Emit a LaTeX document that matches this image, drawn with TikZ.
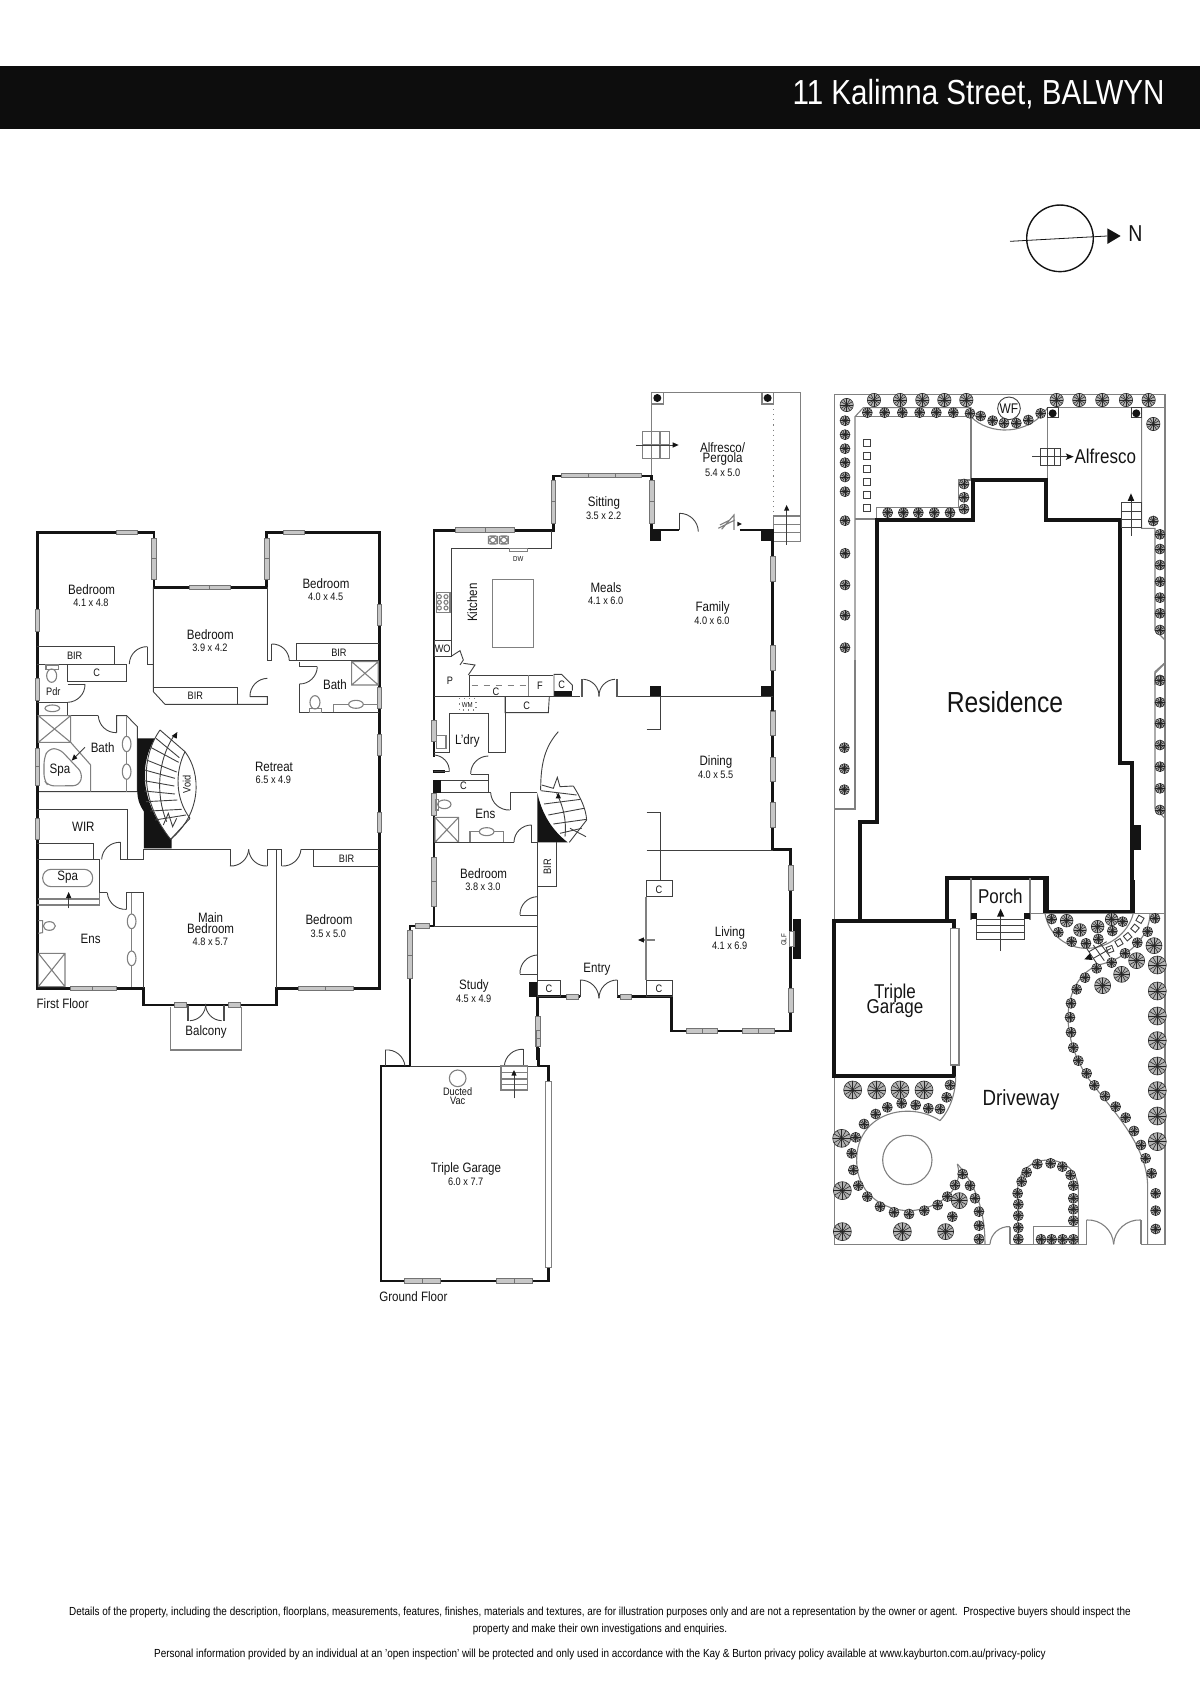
\documentclass[tikz,border=0pt]{standalone}
\usepackage{fontspec}
\setmainfont[FakeStretch=0.85]{Liberation Sans}
\usepackage{tikz}

\definecolor{inkdark}{gray}{0.08}
\definecolor{wingrey}{gray}{0.78}

\tikzset{
    wall/.style={line width=1.25pt,draw=inkdark,line join=miter},
    thickwall/.style={line width=1.9pt,draw=inkdark,line join=miter},
    thinln/.style={line width=0.45pt,draw=black!75},
    grayln/.style={line width=0.55pt,draw=black!50},
    winbox/.style={line width=0.3pt,draw=black!55,fill=wingrey},
    solid black/.style={fill=inkdark,draw=none},
    rm/.style={font=\fontsize{6.8}{7}\selectfont,inner sep=0pt,text=inkdark},
    dm/.style={font=\fontsize{5.4}{6}\selectfont,inner sep=0pt,text=inkdark},
    sm/.style={font=\fontsize{5.4}{6}\selectfont,inner sep=0pt,text=inkdark},
    tiny lab/.style={font=\fontsize{3.6}{4}\selectfont,inner sep=0pt,text=inkdark},
    big lab/.style={font=\fontsize{10}{11}\selectfont,inner sep=0pt,text=inkdark},
    foot/.style={font=\fontsize{5.85}{7}\selectfont,inner sep=0pt,text=black},
    arrowtip/.style={fill=inkdark,draw=none}
}

% window boxes, in the coordinates of the scope
\newcommand{\hwin}[3]{\draw[winbox] (#1,#3-7) rectangle (#2,#3+7);}
\newcommand{\vwin}[3]{\draw[winbox] (#1-7,#2) rectangle (#1+7,#3);}
% shower square with its cross
\newcommand{\shower}[4]{\draw[grayln] (#1,#2) rectangle (#3,#4) (#1,#2) -- (#3,#4) (#1,#4) -- (#3,#2);}
% a plant: x, y, radius
\newcommand{\shrub}[3]{%
    \draw[line width=0.3pt,draw=black!80,fill=black!30] (#1,#2) circle (#3);
    \foreach \a in {0,30,...,330} {\draw[line width=0.28pt,draw=black!85] (#1,#2) -- ++(\a:#3);}
}

\begin{document}
\begin{tikzpicture}[x=0.5pt,y=-0.5pt]
    \useasboundingbox (0,0) rectangle (1200,1697);

    % title band
    \fill[fill=black!95] (0,65.5) rectangle (1200,128.5);
    \node[font=\fontsize{17.4}{18}\selectfont,inner sep=0pt,text=white,anchor=east] (title) at (1165,94) {11 Kalimna Street, BALWYN};

    % north point
    \begin{scope}[shift={(960,180)},scale=0.3333]
        \node[draw=inkdark,line width=0.7pt,circle,minimum size=33.3pt,inner sep=0pt] (compass) at (300,175) {};
        \coordinate (tailN) at (150,184);
        \coordinate (headN) at (442,168);
        \draw[line width=0.4pt,draw=inkdark] (tailN) -- (headN);
        \fill[arrowtip] (442,145) -- (482,168) -- (442,192) -- cycle;
        \node[font=\fontsize{11.5}{12}\selectfont,inner sep=0pt,text=inkdark] (northN) at (526,160) {N};
    \end{scope}

    % first floor, top half
    \begin{scope}[shift={(20,510)},scale=0.3333]
        \draw[wall] (52,900) -- (52,67) -- (402,67) -- (402,232) -- (740,232) -- (740,67) -- (1078,67) -- (1078,900);
        \foreach \a/\b/\c in {290/352/67,508/569/232,569/630/232,790/853/67} {\hwin{\a}{\b}{\c}}
        \foreach \a/\b/\c in {402/85/146,402/146/207,740/85/146,740/146/207,52/298/365,52/505/572,52/715/770,52/770/825,1078/283/345,1078/532/595,1078/672/735} {\vwin{\a}{\b}{\c}}

        \draw[thinln] (400,232) -- (400,545) -- (435,583) -- (742,583) -- (742,560) -- (690,560);
        \draw[thinln] (742,232) -- (742,452) -- (755,452) -- (755,402);
        \draw[thinln] (400,462) -- (382,462) -- (382,410);
        \draw[thinln] (400,532) -- (653,532) -- (653,583);
        \draw[thinln] (52,410) -- (282,410) -- (282,462) -- (52,462);
        \draw[thinln] (143,462) -- (320,462) -- (320,513) -- (143,513) -- cycle;
        \draw[thinln] (143,522) -- (195,522);
        \draw[thinln] (52,577) -- (143,577) -- (143,617);
        \draw[thinln] (52,617) -- (235,617);
        \draw[thinln] (290,668) -- (290,617) -- (320,617) -- (352,650) -- (352,845) -- (52,845);
        \draw[grayln] (320,617) -- (320,680) (320,725) -- (320,762) (320,807) -- (320,845);
        \draw[grayln] (320,702) ellipse (13 and 23);
        \draw[grayln] (320,785) ellipse (13 and 23);
        \shower{55}{617}{152}{697}
        \draw[grayln] (152,697) -- (212,765) -- (212,845);
        \draw[grayln,rounded corners=3pt] (72,745) -- (85,716) -- (118,716) -- (188,790) -- (178,827) -- (85,828) -- (72,810) -- cycle;
        \draw[thinln] (195,712) -- (165,742);
        \fill[arrowtip] (155,752) -- (172,745) -- (162,733) -- cycle;
        \draw[grayln] (95,497) ellipse (15 and 20);
        \draw[grayln] (78,465) rectangle (115,478);
        \draw[grayln] (97,595) ellipse (22 and 10);
        \draw[thinln] (828,452) -- (828,400) -- (1078,400) (808,452) -- (1078,452);
        \draw[thinln] (838,455) -- (838,470) -- (892,470);
        \draw[thinln] (838,522) -- (838,607) -- (1078,607);
        \shower{995}{455}{1075}{525}
        \draw[grayln] (940,607) -- (940,583) -- (1075,583);
        \draw[grayln,fill=white] (1008,583) ellipse (22 and 12);
        \draw[grayln] (885,577) ellipse (15 and 20);
        \draw[grayln] (868,595) rectangle (905,607);

        % doors
        \draw[thinln] (328,462) to[bend left=45] (382,410);
        \draw[thinln] (195,522) to[bend left=45] (143,577);
        \draw[thinln] (235,617) to[bend right=45] (290,668);
        \draw[thinln] (742,505) to[bend right=45] (690,560);
        \draw[thinln] (755,402) to[bend left=45] (808,452);
        \draw[thinln] (892,470) to[bend left=45] (838,522);

        \node[rm] (bedA) at (215,238) {Bedroom};
        \node[dm] (bedAd) at (213,277) {4.1 x 4.8};
        \node[rm] (bedB) at (918,222) {Bedroom};
        \node[dm] (bedBd) at (917,261) {4.0 x 4.5};
        \node[rm] (bedC) at (571,373) {Bedroom};
        \node[dm] (bedCd) at (570,412) {3.9 x 4.2};
        \node[sm] (birA) at (164,437) {BIR};
        \node[sm] (cupA) at (230,488) {C};
        \node[sm] (pdrA) at (100,545) {Pdr};
        \node[sm] (birB) at (526,557) {BIR};
        \node[sm] (birC) at (957,428) {BIR};
        \node[rm] (bathA) at (945,525) {Bath};
        \node[rm] (bathB) at (248,712) {Bath};
        \node[rm] (spaA) at (120,780) {Spa};
        \node[rm] (retreat) at (762,772) {Retreat};
        \node[dm] (retreatd) at (760,810) {6.5 x 4.9};
    \end{scope}

    % first floor stairs
    \begin{scope}[shift={(120,710)},scale=0.3333]
        \fill[solid black] (52,85) -- (105,85) .. controls (65,150) and (50,260) .. (150,385) -- (155,385) -- (155,415) -- (72,415) -- (72,305) .. controls (55,280) and (52,260) .. (52,245) -- cycle;
        \draw[thinln] (120,60) .. controls (70,130) and (50,260) .. (152,388);
        \draw[thinln] (120,60) -- (195,125);
        \draw[thinln] (195,125) .. controls (165,185) and (165,265) .. (210,325);
        \draw[thinln] (195,125) .. controls (245,190) and (245,310) .. (152,388);
        \draw[thinln] (210,325) -- (152,388);
        \foreach \a/\b/\c/\d in {108/85/178/143,92/112/176/157,80/150/170/186,74/180/165/205,72/212/163/228,73/243/165/252,78/275/172/270,90/303/185/298,105/330/198/315} {\draw[thinln] (\a,\b) -- (\c,\d);}
        \draw[thinln] (160,80) .. controls (115,150) and (105,250) .. (140,335);
        \draw[thinln] (130,345) -- (145,310) -- (158,350) -- (170,325);
        \fill[arrowtip] (172,66) -- (155,78) -- (170,86) -- cycle;
        \node[sm,rotate=90] (voidN) at (200,223) {Void};
    \end{scope}

    % first floor, bottom half
    \begin{scope}[shift={(20,790)},scale=0.3333]
        \draw[wall] (52,0) -- (52,595) -- (370,595) -- (370,645) -- (770,645) -- (770,595) -- (1078,595) -- (1078,0);
        \vwin{52}{85}{148}
        \vwin{1078}{67}{128}
        \foreach \a/\b/\c in {150/218/595,218/288/595,835/916/595,916/1000/595,462/498/645,625/660/645} {\hwin{\a}{\b}{\c}}

        \draw[thinln] (52,58) -- (322,58) -- (322,208);
        \draw[thinln] (52,160) -- (220,160) -- (220,208);
        \draw[thinln] (52,208) -- (238,208) -- (238,308);
        \draw[thinln] (302,157) -- (302,208) -- (370,208) -- (370,178);
        \draw[thinln] (238,308) -- (262,308);
        \draw[grayln] (238,308) -- (238,345) -- (52,345);
        \draw[grayln] (55,327) -- (238,327);
        \draw[grayln,rounded corners=4.2pt] (68,238) rectangle (218,290);
        \draw[thinln] (146,355) -- (146,322);
        \fill[arrowtip] (146,306) -- (138,324) -- (154,324) -- cycle;
        \draw[thinln] (320,358) -- (320,308) -- (370,308) -- (370,595);
        \draw[grayln] (335,308) -- (335,373) (335,415) -- (335,483) (335,527) -- (335,590);
        \draw[grayln] (335,394) ellipse (13 and 22);
        \draw[grayln] (335,505) ellipse (13 and 22);
        \draw[grayln] (88,408) ellipse (18 and 13);
        \draw[grayln] (55,392) -- (68,392) -- (68,428) -- (55,430);
        \shower{55}{490}{135}{590}

        \draw[thinln] (370,178) -- (630,178) -- (630,228);
        \draw[thinln] (742,228) -- (742,178) -- (785,178) -- (785,228);
        \draw[thinln] (843,178) -- (1078,178);
        \draw[thinln] (770,178) -- (770,595);
        \draw[thinln] (880,178) -- (880,230) -- (1078,230);
        \draw[grayln] (452,650) -- (452,780) -- (665,780) -- (665,650);
        \draw[line width=1.1pt,draw=black!70] (505,645) -- (505,692) (612,645) -- (612,692);

        % doors
        \draw[thinln] (245,208) to[bend left=45] (302,157);
        \draw[thinln] (262,308) to[bend right=45] (320,358);
        \draw[thinln] (630,228) to[bend right=45] (686,178);
        \draw[thinln] (686,178) to[bend right=45] (742,228);
        \draw[thinln] (785,228) to[bend right=45] (843,178);
        \draw[thinln] (510,692) to[bend right=45] (557,642);
        \draw[thinln] (557,642) to[bend right=45] (605,692);

        \node[rm] (wirA) at (190,110) {WIR};
        \node[rm] (spaB) at (143,262) {Spa};
        \node[rm] (ensA) at (212,447) {Ens};
        \node[rm] (mainA) at (572,382) {Main};
        \node[rm] (mainB) at (572,415) {Bedroom};
        \node[dm] (mainBd) at (571,455) {4.8 x 5.7};
        \node[rm] (bedD) at (927,390) {Bedroom};
        \node[dm] (bedDd) at (925,430) {3.5 x 5.0};
        \node[sm] (birD) at (980,207) {BIR};
        \node[rm] (firstFloor) at (128,642) {First Floor};
        \node[rm] (balcony) at (558,725) {Balcony};
    \end{scope}

    % ground floor, rear
    \begin{scope}[shift={(410,380)},scale=0.3333]
        \draw[grayln] (725,288) -- (725,38) -- (1172,38) -- (1172,485) -- (1090,485);
        \draw[grayln,dotted] (1090,72) -- (1090,408);
        \draw[grayln] (725,38) rectangle (760,72);
        \draw[grayln] (1056,38) rectangle (1090,72);
        \fill[solid black] (742,54) circle (12);
        \fill[solid black] (1073,54) circle (12);
        \draw[grayln] (698,155) rectangle (778,235) (698,195) -- (778,195) (750,155) -- (750,235);
        \draw[thinln] (678,195) -- (790,195);
        \fill[arrowtip] (806,195) -- (788,187) -- (788,203) -- cycle;
        \draw[grayln] (1090,408) rectangle (1172,485) (1090,433) -- (1172,433) (1090,458) -- (1172,458);
        \draw[thinln] (1130,495) -- (1130,390);
        \fill[arrowtip] (1130,375) -- (1122,392) -- (1138,392) -- cycle;
        \draw[grayln] (925,445) -- (975,420) (930,435) -- (960,420) (935,448) -- (972,405) -- (972,450);
        \fill[arrowtip] (996,432) -- (982,425) -- (982,439) -- cycle;

        \draw[wall] (72,1020) -- (72,452) -- (430,452) -- (430,288) -- (725,288) -- (725,450) -- (808,450);
        \draw[wall] (990,450) -- (1088,450) -- (1088,1020);
        \foreach \a/\b/\c in {137/226/450,226/312/450,455/535/286,535/615/286,615/695/286} {\hwin{\a}{\b}{\c}}
        \foreach \a/\b/\c in {430/300/365,430/365/430,725/300/365,725/365/430,1088/530/605,1088/797/870,1088/992/1020} {\vwin{\a}{\b}{\c}}
        \fill[solid black] (720,450) rectangle (752,484);
        \fill[solid black] (1053,450) rectangle (1088,484);
        \fill[solid black] (720,917) rectangle (752,950);
        \fill[solid black] (1053,917) rectangle (1088,950);
        \fill[solid black] (432,932) rectangle (485,950);

        \draw[thinln] (808,450) -- (808,400);
        \draw[thinln] (808,400) to[bend left=45] (865,455);
        \draw[thinln] (425,452) -- (425,505) -- (125,505) -- (125,780) -- (72,780);
        \draw[grayln,rounded corners=4pt] (235,468) rectangle (262,492);
        \draw[grayln,rounded corners=4pt] (268,468) rectangle (295,492);
        \draw[grayln] (298,505) rectangle (352,515);
        \draw[grayln] (80,638) rectangle (120,697);
        \foreach \a/\b in {88/650,88/667,88/684,108/650,108/667,108/684} {\draw[grayln] (\a,\b) circle (6);}
        \draw[grayln] (248,598) rectangle (371,802);
        \draw[thinln] (72,780) rectangle (125,828);
        \draw[thinln] (125,828) -- (150,812) -- (160,840) -- (150,855) (160,850) -- (195,855) -- (175,885);
        \draw[thinln] (72,828) -- (125,828);
        \draw[thinln] (178,950) -- (178,885) -- (430,885);
        \draw[grayln,dashed] (185,917) -- (355,917);
        \draw[grayln] (355,885) -- (355,950);
        \draw[thinln] (432,950) -- (432,883) -- (455,883) -- (487,915) -- (487,932);
        \draw[thinln] (72,950) -- (510,950);
        \draw[thinln] (625,950) -- (1088,950);
        \draw[line width=1pt,draw=black!65] (515,898) -- (515,950) (620,898) -- (620,950);
        \draw[thinln] (520,898) to[bend left=45] (567,950);
        \draw[thinln] (567,950) to[bend left=45] (615,898);
        \draw[thinln] (285,950) -- (285,998) -- (415,998) -- (418,950);

        \node[rm] (alfrescoA) at (938,203) {Alfresco/};
        \node[rm] (pergola) at (938,238) {Pergola};
        \node[dm] (pergolad) at (938,277) {5.4 x 5.0};
        \node[rm] (sitting) at (582,368) {Sitting};
        \node[dm] (sittingd) at (581,408) {3.5 x 2.2};
        \node[rm] (meals) at (588,622) {Meals};
        \node[dm] (mealsd) at (587,662) {4.1 x 6.0};
        \node[rm] (family) at (908,684) {Family};
        \node[dm] (familyd) at (906,722) {4.0 x 6.0};
        \node[rm,rotate=90] (kitchen) at (187,668) {Kitchen};
        \node[tiny lab] (dwA) at (325,537) {DW};
        \node[sm] (woA) at (98,806) {WO};
        \node[sm] (panA) at (120,902) {P};
        \node[sm] (cupB) at (258,935) {C};
        \node[sm] (fridge) at (390,918) {F};
        \node[sm] (cupC) at (455,915) {C};
        \node[sm] (cupD) at (350,978) {C};
    \end{scope}

    % ground floor, front
    \begin{scope}[shift={(410,680)},scale=0.3333]
        \draw[wall] (72,50) -- (72,230);
        \draw[wall] (68,275) -- (105,275);
        \draw[wall] (72,338) -- (72,738) -- (0,738) -- (0,1140);
        \draw[wall] (382,950) -- (510,950);
        \draw[wall] (622,950) -- (785,950) -- (785,1053) -- (1142,1053) -- (1142,508) -- (1088,508) -- (1088,50);
        \draw[wall] (382,950) -- (382,1140);
        \foreach \a/\b/\c in {72/122/185,72/340/405,72/533/605,72/605/678,0/752/825,0/825/895,384/1010/1055,384/1055/1100,1088/95/165,1088/232/305,1088/368/442,1142/557/630,1142/925/998} {\vwin{\a}{\b}{\c}}
        \foreach \a/\b/\c in {15/58/738,470/505/950,632/665/950,828/876/1053,876/922/1053,998/1046/1053,1046/1092/1053} {\hwin{\a}{\b}{\c}}
        \fill[solid black] (68,300) rectangle (92,338);
        \fill[solid black] (357,905) rectangle (382,950);
        \fill[solid black] (1148,718) rectangle (1172,838);
        \draw[grayln,fill=white] (1138,755) rectangle (1152,800);
        \fill[solid black] (382,338) .. controls (395,400) and (425,450) .. (473,487) -- (382,487) -- cycle;

        \draw[grayln,dotted] (148,55) rectangle (198,90);
        \draw[thinln] (285,50) -- (285,217) -- (235,217) -- (235,100) -- (118,100) -- (118,217) -- (72,217);
        \draw[grayln] (80,167) rectangle (108,205);
        \draw[thinln] (72,275) -- (118,275);
        \draw[thinln] (182,282) -- (235,282) -- (235,338);
        \draw[thinln] (92,300) -- (235,300);
        \draw[thinln] (92,338) -- (242,338);
        \draw[grayln] (103,373) ellipse (20 and 13);
        \draw[grayln] (78,358) rectangle (85,390);
        \draw[thinln] (300,390) -- (300,338) -- (382,338);
        \shower{75}{412}{146}{487}
        \draw[thinln] (72,487) -- (312,487);
        \draw[thinln] (365,435) -- (365,487) -- (382,487);
        \draw[grayln] (180,487) -- (180,455) -- (280,455) -- (280,487);
        \draw[grayln,fill=white] (230,455) ellipse (22 and 12);

        % stairs
        \draw[thinln] (445,155) .. controls (405,200) and (392,250) .. (392,330);
        \draw[thinln] (395,315) -- (430,325) -- (442,292) -- (450,320) -- (490,318);
        \draw[thinln] (490,318) .. controls (510,350) and (528,385) .. (530,420);
        \draw[thinln] (530,420) -- (478,487);
        \draw[thinln] (480,445) -- (528,470);
        \foreach \a/\b/\c/\d in {392/332/500/345,402/372/512/358,415/405/522/385,430/432/530/418,450/460/515/445} {\draw[thinln] (\a,\b) -- (\c,\d);}
        \draw[thinln] (440,340) .. controls (460,380) and (470,420) .. (465,470);
        \fill[arrowtip] (445,338) -- (437,355) -- (453,355) -- cycle;

        \draw[thinln] (382,487) -- (382,905);
        \draw[thinln] (382,620) -- (438,620) -- (438,487);
        \draw[thinln] (330,705) -- (382,705);
        \draw[thinln] (72,740) -- (382,740);
        \draw[thinln] (330,882) -- (382,882);
        \draw[thinln] (382,900) rectangle (452,950);
        \draw[thinln] (510,950) -- (510,900);
        \draw[thinln] (622,950) -- (622,900);
        \draw[thinln] (710,510) -- (1088,510);
        \draw[thinln] (710,147) -- (750,147) -- (750,50);
        \draw[thinln] (710,398) -- (750,398) -- (750,602);
        \draw[thinln] (708,602) rectangle (787,650);
        \draw[grayln] (708,650) -- (708,900);
        \draw[thinln] (708,900) rectangle (787,950);
        \draw[grayln] (700,780) -- (735,780);
        \fill[arrowtip] (684,780) -- (702,772) -- (702,788) -- cycle;

        % doors
        \draw[thinln] (72,225) to[bend left=45] (118,275);
        \draw[thinln] (235,228) to[bend right=45] (182,282);
        \draw[thinln] (242,338) to[bend right=45] (300,390);
        \draw[thinln] (312,487) to[bend left=45] (365,435);
        \draw[thinln] (382,650) to[bend right=45] (330,705);
        \draw[thinln] (382,825) to[bend right=45] (330,882);
        \draw[thinln] (510,900) to[bend left=45] (567,955);
        \draw[thinln] (567,955) to[bend left=45] (622,900);

        \node[tiny lab] (wmA) at (172,76) {WM};
        \node[rm] (ldry) at (172,182) {L'dry};
        \node[sm] (cupE) at (160,318) {C};
        \node[rm] (ensB) at (226,401) {Ens};
        \node[rm] (bedE) at (221,582) {Bedroom};
        \node[dm] (bedEd) at (219,621) {3.8 x 3.0};
        \node[sm,rotate=90] (birE) at (412,560) {BIR};
        \node[rm] (dining) at (918,246) {Dining};
        \node[dm] (diningd) at (917,285) {4.0 x 5.5};
        \node[sm] (cupF) at (747,628) {C};
        \node[rm] (living) at (960,760) {Living};
        \node[dm] (livingd) at (959,797) {4.1 x 6.9};
        \node[tiny lab,rotate=90] (glf) at (1122,780) {GLF};
        \node[rm] (study) at (192,918) {Study};
        \node[dm] (studyd) at (191,957) {4.5 x 4.9};
        \node[rm] (entry) at (561,868) {Entry};
        \node[sm] (cupG) at (417,926) {C};
        \node[sm] (cupH) at (747,926) {C};
    \end{scope}

    % triple garage
    \begin{scope}[shift={(370,1030)},scale=0.3333]
        \draw[wall] (120,0) -- (120,108) -- (33,108) -- (33,753) -- (535,753) -- (535,712);
        \draw[wall] (505,55) -- (505,108) -- (535,108) -- (535,155);
        \draw[thinln] (120,108) -- (505,108);
        \draw[grayln,fill=white] (527,155) rectangle (545,712);
        \vwin{505}{0}{25}
        \vwin{505}{25}{50}
        \foreach \a/\b/\c in {103/158/753,158/212/753,378/432/753,432/487/753} {\hwin{\a}{\b}{\c}}
        \draw[thinln] (45,108) -- (45,60);
        \draw[thinln] (45,60) to[bend left=45] (105,108);
        \draw[thinln] (460,108) -- (460,58);
        \draw[thinln] (460,58) to[bend right=45] (403,108);
        \draw[grayln] (393,108) rectangle (472,180) (393,128) -- (472,128) (393,147) -- (472,147) (393,163) -- (472,163);
        \draw[thinln] (432,205) -- (432,135);
        \fill[arrowtip] (432,120) -- (424,137) -- (440,137) -- cycle;
        \draw[grayln] (263,145) circle (25);

        \node[sm] (ductA) at (263,186) {Ducted};
        \node[sm] (ductB) at (263,212) {Vac};
        \node[rm] (garage) at (288,416) {Triple Garage};
        \node[dm] (garaged) at (287,455) {6.0 x 7.7};
        \node[rm] (groundFloor) at (130,800) {Ground Floor};
    \end{scope}

    % site plan, top part
    \begin{scope}[shift={(825,385)},scale=0.3333]
        \draw[grayln] (28,900) -- (28,28) -- (1020,28) -- (1020,900);
        \draw[grayln] (90,900) -- (90,95) -- (115,68) -- (440,68);
        \draw[grayln] (668,68) -- (1020,68);
        \draw[grayln] (90,95) -- (438,95) -- (438,285) -- (400,285) -- (400,368) -- (155,368) -- (155,402) -- (90,402);
        \draw[grayln] (438,95) .. controls (490,150) and (610,155) .. (668,68);
        \draw[grayln] (668,68) -- (668,285);
        \draw[grayln] (950,68) -- (950,430) -- (990,430) -- (990,735) -- (1020,765);
        \draw[grayln] (1020,833) -- (990,860) -- (990,900);
        \draw[thickwall] (155,900) -- (155,405) -- (445,405) -- (445,285) -- (662,285) -- (662,405) -- (885,405) -- (885,900);
        \draw[thinln,fill=white] (552,70) circle (34);
        \draw[thinln] (668,68) rectangle (700,98);
        \draw[thinln] (918,68) rectangle (950,98);
        \fill[solid black] (683,85) circle (12);
        \fill[solid black] (934,85) circle (12);
        \foreach \b in {173,213,252,290,329,368} {\draw[thinln] (116,\b-10) rectangle (136,\b+10);}
        \draw[thinln] (645,190) rectangle (707,240) (645,215) -- (707,215) (668,190) -- (668,240) (688,190) -- (688,240);
        \draw[thinln] (622,215) -- (730,215);
        \fill[arrowtip] (746,215) -- (722,205) -- (728,215) -- (722,225) -- cycle;
        \draw[thinln] (888,352) rectangle (950,428) (888,378) -- (950,378) (888,402) -- (950,402);
        \draw[thinln] (918,452) -- (918,340);
        \fill[arrowtip] (918,325) -- (908,348) -- (928,348) -- cycle;

        \foreach \tx/\ty in {147/45,225/45,292/45,358/45,424/45,695/45,763/45,832/45,903/45,971/45,65/60,985/117} {\shrub{\tx}{\ty}{20}}
        \foreach \tx/\ty in {127/83,179/83,232/83,284/83,334/83,385/83,435/85,467/93,503/107,537/114,574/114,610/105,647/85,60/107,60/149,60/191,60/233,60/276,60/320,60/407,60/505,60/600,60/691,60/788,985/408,1005/448,1005/492,1005/540,1005/590,1005/638,1005/685,1005/735,1005/885,417/297,417/337,417/372,188/383,235/383,280/383,328/383,375/383} {\shrub{\tx}{\ty}{15}}

        \node[rm,font=\fontsize{7}{8}\selectfont] (wfN) at (552,70) {WF};
        \node[big lab] (alfrescoB) at (841,215) {Alfresco};
    \end{scope}

    % site plan, middle part
    \begin{scope}[shift={(825,660)},scale=0.3333]
        \draw[grayln] (28,0) -- (28,780);
        \draw[grayln] (1020,0) -- (1020,780);
        \draw[grayln] (90,0) -- (90,447) -- (28,447);
        \draw[grayln] (1020,10) -- (990,40) -- (990,445) -- (1020,475);
        \draw[thickwall] (155,0) -- (155,485) -- (105,485) -- (105,780);
        \draw[thickwall] (885,0) -- (885,310) -- (922,310) -- (922,755) -- (665,755) -- (665,655) -- (365,655) -- (365,780);
        \fill[solid black] (925,495) rectangle (948,570);
        \draw[grayln] (438,655) -- (438,780) (615,655) -- (615,780);
        \foreach \tx/\ty in {58/263,58/326,58/389,1005/62,1005/127,1005/190,1005/255,1005/320,1005/385,1005/450} {\shrub{\tx}{\ty}{15}}
        \node[font=\fontsize{14.5}{15}\selectfont,inner sep=0pt,text=inkdark] (residence) at (540,127) {Residence};
        \node[big lab] (porch) at (526,708) {Porch};
    \end{scope}

    % site plan, front part
    \begin{scope}[shift={(825,880)},scale=0.3333]
        \draw[grayln] (28,0) -- (28,1093) -- (495,1093);
        \draw[grayln] (555,1093) -- (785,1093);
        \draw[grayln] (948,1093) -- (1020,1093) -- (1020,0);
        \draw[thickwall] (105,0) -- (105,122);
        \draw[thickwall] (365,0) -- (365,122);
        \draw[thickwall] (388,145) -- (388,122) -- (28,122) -- (28,588) -- (388,588) -- (388,555);
        \draw[thickwall] (660,0) -- (660,97) -- (925,97) -- (925,0);
        \draw[grayln,fill=white] (376,145) rectangle (402,555);
        \draw[grayln] (438,0) -- (438,100) (615,0) -- (615,100) (615,100) -- (1020,100);
        \fill[solid black] (438,100) rectangle (455,118);
        \fill[solid black] (597,100) rectangle (615,118);
        \draw[thinln] (455,118) rectangle (598,177) (455,137) -- (598,137) (455,157) -- (598,157);
        \draw[thinln] (527,213) -- (527,105);
        \fill[arrowtip] (527,86) -- (516,110) -- (538,110) -- cycle;

        % beds and driveway edges
        \draw[grayln] (660,100) .. controls (672,170) and (730,205) .. (785,205) .. controls (850,205) and (910,160) .. (925,100);
        \draw[grayln] (975,100) .. controls (975,170) and (910,235) .. (820,255) .. controls (730,290) and (690,430) .. (780,580) .. controls (830,660) and (968,780) .. (968,920) -- (968,1093);
        \draw[grayln] (247,840) circle (74);
        \draw[grayln] (392,590) .. controls (392,640) and (375,690) .. (345,722);
        \draw[grayln] (345,722) .. controls (250,660) and (95,700) .. (95,840) .. controls (95,960) and (200,995) .. (260,992) .. controls (340,985) and (420,930) .. (397,852);
        \draw[grayln] (397,852) .. controls (450,910) and (480,990) .. (480,1093);
        \draw[grayln] (578,1093) -- (578,930) .. controls (578,810) and (760,810) .. (760,930) -- (760,1093);
        \draw[grayln] (625,1093) -- (625,1040) -- (760,1040);
        \draw[grayln] (555,1093) -- (555,1040);
        \draw[grayln] (555,1040) to[bend right=45] (495,1093);
        \draw[grayln] (785,1093) -- (785,1020);
        \draw[grayln] (948,1093) -- (948,1020);
        \draw[grayln] (785,1020) to[bend left=45] (866,1093);
        \draw[grayln] (866,1093) to[bend left=45] (948,1020);

        % path
        \foreach \a/\b/\c in {855/208/20,882/188/30,908/170/40,930/145/50,945/118/60} {\draw[thinln,rotate around={\c:(\a,\b)}] (\a-9,\b-9) rectangle (\a+9,\b+9);}
        \draw[thinln] (785,205) -- (815,250) (805,195) -- (838,242) (822,185) -- (855,230);
        \draw[thinln] (792,215) -- (845,185) (805,235) -- (858,205);
        \fill[arrowtip] (778,238) -- (803,240) -- (795,220) -- cycle;

        \foreach \tx/\ty in {680/117,700/157,740/185,783/190,893/125,862/153,820/177,937/188,968/155,990/115,900/220,860/248,815/265,780/293,755/328,738/370,735/412,738/457,745/503,760/542,785/580,808/616,840/648,872/680,902/713,927/753,948/795,962/835,980/880,992/940,992/992,992/1047} {\shrub{\tx}{\ty}{15}}
        \foreach \tx/\ty in {725/122,765/150,818/140,860/118} {\shrub{\tx}{\ty}{19}}
        \foreach \tx/\ty in {935/242,987/197,890/283,833/317,362/1055,403/962} {\shrub{\tx}{\ty}{24}}
        \foreach \tx/\ty in {997/255,997/333,997/408,997/482,997/558,997/632,997/708,997/785,83/630,155/630,225/630,297/630,50/775,52/932,52/1055,232/1055} {\shrub{\tx}{\ty}{27}}
        \foreach \tx/\ty in {375/615,365/652,345/687,310/685,272/675,230/670,187/682,152/702,117/732,92/772,80/820,85/870,100/917,127/950,165/980,207/997,252/1002,298/992,338/975,367/950,390/915,413/882,435/917,450/955,462/995,462/1037,462/1077,382/1010,578/940,580/973,580/1007,580/1043,580/1077,590/905,605/877,637/852,677/850,712/860,737/885,745/917,745/955,745/988,745/1022,648/1078,680/1078,713/1078,745/1078} {\shrub{\tx}{\ty}{15}}

        \node[big lab,align=center] (tripleA) at (210,362) {Triple\\[-3.2pt]Garage};
        \node[big lab,font=\fontsize{11}{12}\selectfont] (driveway) at (588,660) {Driveway};
    \end{scope}

    % footer notes
    \node[foot] (footA) at (600,1612) {Details of the property, including the description, floorplans, measurements, features, finishes, materials and textures, are for illustration purposes only and are not a representation by the owner or agent.\ \ Prospective buyers should inspect the};
    \node[foot] (footB) at (600,1629) {property and make their own investigations and enquiries.};
    \node[foot] (footC) at (600,1654) {Personal information provided by an individual at an 'open inspection' will be protected and only used in accordance with the Kay \& Burton privacy policy available at www.kayburton.com.au/privacy-policy};
\end{tikzpicture}
\end{document}
